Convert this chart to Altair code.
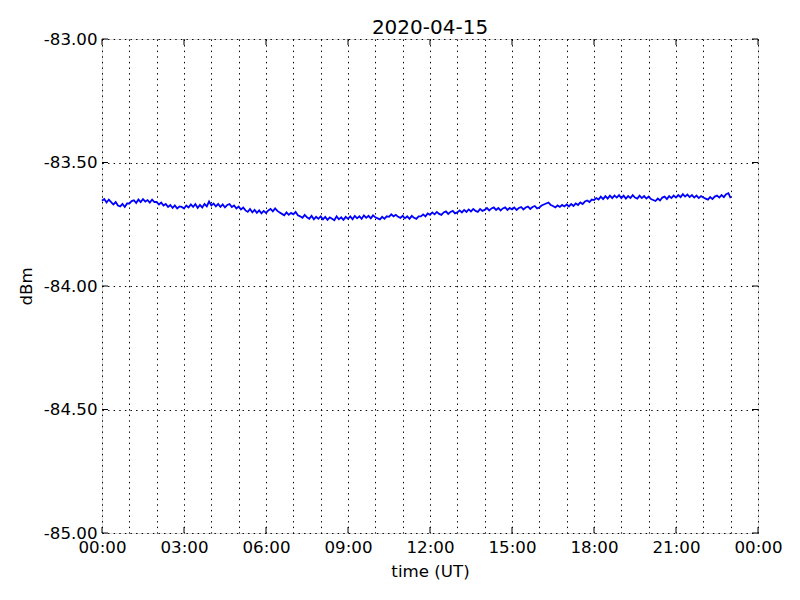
import altair as alt
import pandas as pd

TITLE = "2020-04-15"
X_TITLE = "time (UT)"
Y_TITLE = "dBm"
STEP_MIN = 5  # one sample every 5 minutes, starting 00:00

# signal level (dBm), one row per hour (12 samples: :00, :05, ... :55)
hourly_values = [
    [-83.655, -83.648, -83.662, -83.650, -83.660, -83.670, -83.660, -83.674, -83.678, -83.668, -83.680, -83.666],
    [-83.666, -83.656, -83.653, -83.664, -83.650, -83.660, -83.648, -83.658, -83.652, -83.662, -83.650, -83.660],
    [-83.660, -83.670, -83.662, -83.674, -83.668, -83.680, -83.672, -83.684, -83.674, -83.686, -83.678, -83.680],
    [-83.686, -83.674, -83.682, -83.670, -83.680, -83.668, -83.684, -83.672, -83.682, -83.668, -83.678, -83.658],
    [-83.674, -83.666, -83.678, -83.668, -83.680, -83.670, -83.682, -83.672, -83.668, -83.680, -83.674, -83.686],
    [-83.678, -83.690, -83.682, -83.694, -83.700, -83.688, -83.702, -83.692, -83.704, -83.694, -83.706, -83.696],
    [-83.704, -83.694, -83.688, -83.698, -83.686, -83.696, -83.702, -83.708, -83.714, -83.702, -83.712, -83.704],
    [-83.710, -83.700, -83.714, -83.718, -83.724, -83.712, -83.722, -83.728, -83.716, -83.730, -83.720, -83.728],
    [-83.718, -83.730, -83.720, -83.732, -83.722, -83.728, -83.734, -83.718, -83.730, -83.722, -83.732, -83.720],
    [-83.728, -83.718, -83.730, -83.716, -83.726, -83.718, -83.728, -83.714, -83.724, -83.716, -83.726, -83.714],
    [-83.722, -83.726, -83.730, -83.720, -83.728, -83.718, -83.720, -83.710, -83.718, -83.712, -83.720, -83.724],
    [-83.716, -83.726, -83.718, -83.728, -83.716, -83.724, -83.728, -83.718, -83.718, -83.710, -83.718, -83.706],
    [-83.712, -83.702, -83.710, -83.700, -83.708, -83.712, -83.702, -83.698, -83.708, -83.700, -83.696, -83.706],
    [-83.702, -83.694, -83.702, -83.692, -83.700, -83.690, -83.698, -83.688, -83.696, -83.700, -83.688, -83.696],
    [-83.692, -83.684, -83.694, -83.686, -83.682, -83.692, -83.684, -83.694, -83.686, -83.682, -83.692, -83.684],
    [-83.690, -83.682, -83.692, -83.684, -83.680, -83.690, -83.682, -83.678, -83.688, -83.680, -83.676, -83.686],
    [-83.682, -83.674, -83.670, -83.666, -83.662, -83.672, -83.676, -83.682, -83.674, -83.680, -83.672, -83.678],
    [-83.670, -83.678, -83.668, -83.676, -83.666, -83.672, -83.662, -83.668, -83.658, -83.654, -83.660, -83.650],
    [-83.652, -83.644, -83.650, -83.638, -83.648, -83.636, -83.646, -83.634, -83.644, -83.634, -83.642, -83.632],
    [-83.644, -83.634, -83.646, -83.636, -83.644, -83.632, -83.642, -83.646, -83.634, -83.644, -83.636, -83.646],
    [-83.638, -83.648, -83.652, -83.656, -83.646, -83.654, -83.642, -83.638, -83.648, -83.636, -83.644, -83.634],
    [-83.642, -83.632, -83.640, -83.628, -83.638, -83.630, -83.640, -83.632, -83.642, -83.634, -83.644, -83.636],
    [-83.642, -83.646, -83.650, -83.640, -83.648, -83.638, -83.634, -83.642, -83.632, -83.640, -83.628, -83.624],
]
last_value = [-83.644]  # 23:00

X_DOMAIN = [0, 24]
X_MAJOR = [0, 3, 6, 9, 12, 15, 18, 21, 24]
X_GRID = list(range(0, 25))
Y_DOMAIN = [-85.0, -83.0]
Y_TICKS = [-85.0, -84.5, -84.0, -83.5, -83.0]

values = [v for row in hourly_values for v in row] + last_value
hours = [i * STEP_MIN / 60 for i in range(len(values))]
df = pd.DataFrame({"h": hours, "v": values})

W, H = 656, 494
FONT = "DejaVu Sans"
FS = 16.67
GRID_DASH = [1.4, 4.2]

x_axis = alt.Axis(
    values=X_GRID,
    labelExpr="datum.value % 3 == 0 ? (((datum.value % 24) < 10 ? '0' : '') + (datum.value % 24) + ':00') : ''",
    grid=True, gridColor="black", gridDash=GRID_DASH, gridWidth=1, gridOpacity=1,
    ticks=False, tickSize=0, domain=False,
    labelFont=FONT, labelFontSize=FS, labelColor="black", labelPadding=6, labelFlush=False,
    labelOverlap=False,
    title=X_TITLE, titleFont=FONT, titleFontSize=FS, titleFontWeight="normal", titleColor="black",
    titlePadding=8,
)
y_axis = alt.Axis(
    values=Y_TICKS,
    labelExpr="replace(format(datum.value, '.2f'), '\u2212', '-')",
    grid=True, gridColor="black", gridDash=GRID_DASH, gridWidth=1, gridOpacity=1,
    ticks=False, tickSize=0, domain=False,
    labelFont=FONT, labelFontSize=FS, labelColor="black", labelPadding=5, labelFlush=False,
    labelOverlap=False,
    title=Y_TITLE, titleFont=FONT, titleFontSize=FS, titleFontWeight="normal", titleColor="black",
    titlePadding=8,
)

xs = alt.Scale(domain=X_DOMAIN, nice=False, zero=False)
ys = alt.Scale(domain=Y_DOMAIN, nice=False, zero=False)

line = alt.Chart(df).mark_line(color="#0000ff", strokeWidth=1.8).encode(
    x=alt.X("h:Q", scale=xs, axis=x_axis),
    y=alt.Y("v:Q", scale=ys, axis=y_axis),
)

xmaj = pd.DataFrame({"h": X_MAJOR})
ytk = pd.DataFrame({"v": Y_TICKS})

def xtick(y0, y1):
    return alt.Chart(xmaj).mark_rule(color="black", strokeWidth=1).encode(
        x=alt.X("h:Q", scale=xs, axis=x_axis), y=alt.value(y0), y2=alt.value(y1)
    )

def ytick(x0, x1):
    return alt.Chart(ytk).mark_rule(color="black", strokeWidth=1).encode(
        y=alt.Y("v:Q", scale=ys, axis=y_axis), x=alt.value(x0), x2=alt.value(x1)
    )

title_mark = alt.Chart(pd.DataFrame({"t": [TITLE]})).mark_text(
    font=FONT, fontSize=20, color="black", align="center", baseline="alphabetic"
).encode(text="t:N", x=alt.value(W / 2), y=alt.value(-5))

chart = alt.layer(
    line,
    xtick(H, H - 6), xtick(0, 6),
    ytick(0, 6), ytick(W, W - 6),
    title_mark,
).properties(
    width=W, height=H,
    padding={"left": 94, "top": 31, "right": 34, "bottom": 59},
    autosize="none",
).configure_view(stroke="black", strokeWidth=1).configure(background="white")

chart.save("out.html", embed_options={"renderer": "svg", "actions": False})
